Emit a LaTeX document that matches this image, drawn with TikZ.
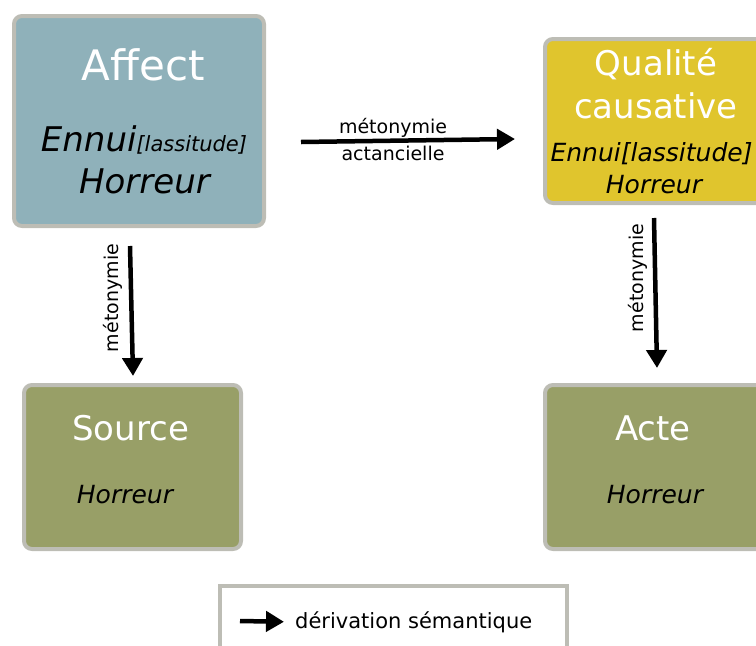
\documentclass[tikz,border=0pt]{standalone}
\usepackage{fontspec}
\setmainfont{DejaVu Sans}
\usepackage{xcolor}
\usepackage{tikz}
\usetikzlibrary{arrows.meta}
\definecolor{affectblue}{HTML}{8FB1BA}
\definecolor{qualyellow}{HTML}{E0C52D}
\definecolor{olivebox}{HTML}{989F67}
\definecolor{boxgray}{HTML}{BDBDB5}
\tikzstyle{box} = [draw=boxgray,line width=4pt,rounded corners=8pt,outer sep=0pt,inner sep=0pt]
\tikzstyle{deriv} = [-{Triangle[length=18pt,width=20pt]},line width=4.5pt]
\tikzstyle{title} = [white,anchor=base,inner sep=0pt]
\tikzstyle{body} = [anchor=base,inner sep=0pt]
\newcommand{\fsz}[1]{\fontsize{#1}{#1}\selectfont}

\begin{document}
\begin{tikzpicture}[x=1pt,y=-1pt]
      \useasboundingbox (0,0) rectangle (756,646);
      \node[box,fill=affectblue,minimum width=250pt,minimum height=210pt](affect) at (139,121){};
      \node[box,fill=qualyellow,minimum width=220pt,minimum height=164pt](qualite) at (655,121){};
      \node[box,fill=olivebox,minimum width=217pt,minimum height=164pt](source) at (132.5,467){};
      \node[box,fill=olivebox,minimum width=220pt,minimum height=164pt](acte) at (655,467){};
      \node[box,sharp corners,fill=white,minimum width=347pt,minimum height=68pt](legend) at (393.5,620){};
      \node[title,font=\fsz{42}](affect-t) at (143.5,80){Affect};
      \node[body,font=\fsz{34}\itshape](affect-b1) at (144,151){Ennui{\fsz{21}[lassitude]}};
      \node[body,font=\fsz{34}\itshape](affect-b2) at (144.5,193){Horreur};
      \node[title,font=\fsz{34}](qualite-t1) at (656,75){Qualité};
      \node[title,font=\fsz{34}](qualite-t2) at (656,118){causative};
      \node[body,font=\fsz{25}\itshape](qualite-b1) at (651.5,161){Ennui[lassitude]};
      \node[body,font=\fsz{25}\itshape](qualite-b2) at (654,193){Horreur};
      \node[title,font=\fsz{34}](source-t) at (130.5,440){Source};
      \node[body,font=\fsz{25}\itshape](source-b) at (125,503){Horreur};
      \node[title,font=\fsz{34}](acte-t) at (653,440){Acte};
      \node[body,font=\fsz{25}\itshape](acte-b) at (655,503){Horreur};
      \draw[deriv]([xshift=37pt,yshift=-21pt]affect.east)--([xshift=-30pt,yshift=-18pt]qualite.west)node[pos=.43,above,inner sep=1pt,font=\fsz{19}]{métonymie}node[pos=.43,below,inner sep=3pt,font=\fsz{19}]{actancielle};
      \draw[deriv]([xshift=-9pt,yshift=-20pt]affect.south)--([xshift=.5pt,yshift=9pt]source.north)node[pos=.4,rotate=90,anchor=south,inner sep=6pt,font=\fsz{19}]{métonymie};
      \draw[deriv]([xshift=-1pt,yshift=-15pt]qualite.south)--([xshift=2pt,yshift=17pt]acte.north)node[pos=.4,rotate=90,anchor=south,inner sep=6pt,font=\fsz{19}]{métonymie};
      \node[anchor=base west,inner sep=0pt,font=\fsz{21}](legend-t) at (295,628){dérivation sémantique};
      \coordinate(legend-a) at (240,621);
      \draw[deriv](legend-a)--([xshift=-11pt]legend-t.west);
    \end{tikzpicture}
\end{document}
